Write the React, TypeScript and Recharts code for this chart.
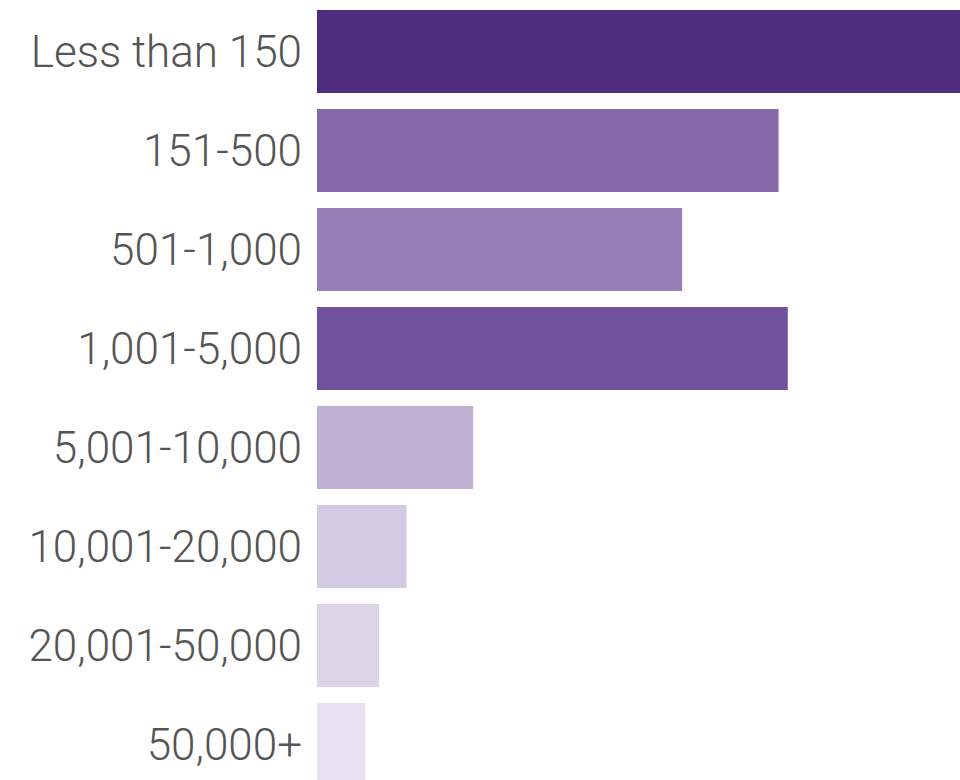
import { Bar, BarChart, Cell, XAxis, YAxis } from 'recharts'

// Share of respondents by organisation size (percent)
const categories = [
  'Less than 150',
  '151-500',
  '501-1,000',
  '1,001-5,000',
  '5,001-10,000',
  '10,001-20,000',
  '20,001-50,000',
  '50,000+',
]
const shares = [28.0, 20.1, 15.9, 20.5, 6.8, 3.9, 2.7, 2.1]

const barColors = [
  '#4f2d80',
  '#8468a8',
  '#967fb6',
  '#70519b',
  '#bfb0d1',
  '#d5cae3',
  '#ddd4e8',
  '#e8e2f0',
]

const rows = categories.map((name, i) => ({ name, value: shares[i] }))

export default function App() {
  return (
    <div
      style={{
        position: 'fixed',
        left: 0,
        top: 0,
        width: 960,
        height: 780,
        overflow: 'hidden',
        background: '#fff',
      }}
    >
      <BarChart
        width={960}
        height={800}
        data={rows}
        layout="vertical"
        margin={{ top: 2, right: 0, bottom: 6, left: 0 }}
      >
        <XAxis type="number" domain={[0, 28]} hide />
        <YAxis
          type="category"
          dataKey="name"
          width={317}
          axisLine={false}
          tickLine={false}
          tickMargin={9}
          tick={{ fontSize: 44, fill: '#555555', fontFamily: 'Roboto', fontWeight: 300 }}
        />
        <Bar dataKey="value" barSize={83} isAnimationActive={false}>
          {rows.map((r, i) => (
            <Cell key={r.name} fill={barColors[i]} />
          ))}
        </Bar>
      </BarChart>
    </div>
  )
}
